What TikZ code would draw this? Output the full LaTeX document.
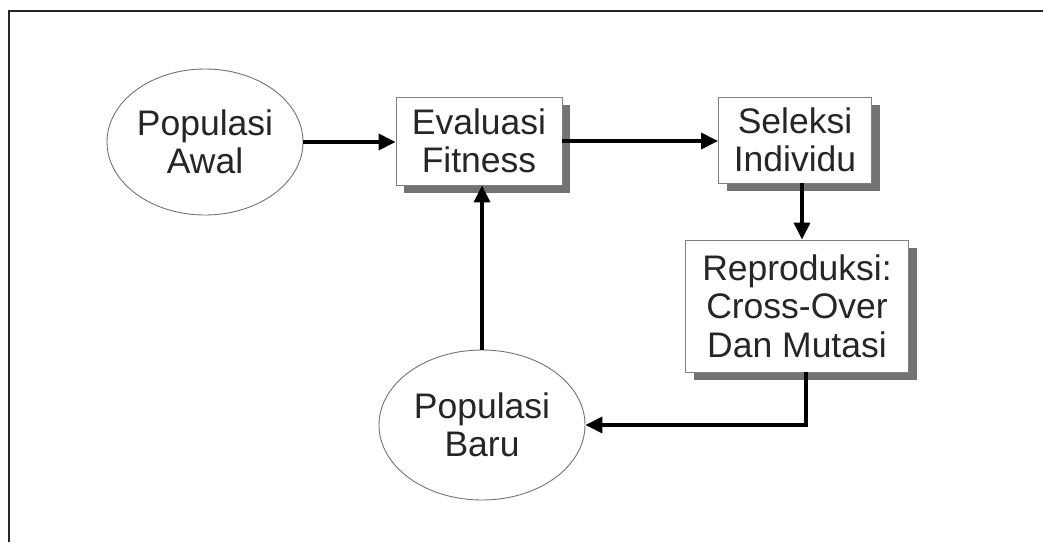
\documentclass[tikz,border=0pt]{standalone}
\usepackage{fontspec}
\setmainfont{Liberation Sans}
\usetikzlibrary{shapes.geometric,arrows.meta,shadows}
\begin{document}
\begin{tikzpicture}[x=1pt,y=-1pt,
  every node/.style={font=\fontsize{35.5}{38.5}\selectfont, text=black!85, align=center, inner sep=0pt},
  oval/.style={ellipse, draw=black!55, line width=0.9pt, fill=white},
  boxnode/.style={rectangle, draw=black!50, line width=0.9pt, fill=white,
    drop shadow={shadow xshift=8pt, shadow yshift=-8pt, fill=black!55, opacity=1}},
  flow/.style={line width=3.6pt, -{Triangle[length=17pt,width=16pt]}}]
\useasboundingbox (0,0) rectangle (1043,542);
\fill[white] (0,0) rectangle (1043,542);
% frame
\coordinate (fl) at (9,542);
\coordinate (fc) at (9,11);
\coordinate (fr) at (1043,11);
\draw[line width=2.6pt, black!85] (fl) -- (fc) -- (fr);
% nodes
\node[oval, minimum width=196pt, minimum height=146pt] (awal) at (205,142) {Populasi\\Awal};
\node[boxnode, minimum width=166pt, minimum height=88pt] (eval) at (479,141) {Evaluasi\\Fitness};
\node[boxnode, minimum width=153pt, minimum height=86pt] (sel) at (795,140) {Seleksi\\Individu};
\node[boxnode, minimum width=223pt, minimum height=132pt] (rep) at (797,306) {Reproduksi:\\Cross-Over\\Dan Mutasi};
\node[oval, minimum width=206pt, minimum height=150pt] (baru) at (482,425) {Populasi\\Baru};
% connectors
\draw[flow] (awal.east) -- (awal.east -| eval.west);
\draw[flow] (eval.east) -- (eval.east -| sel.west);
\draw[flow] ([xshift=7pt]sel.south) -- ([xshift=7pt]sel.south |- rep.north);
\draw[flow] (baru.north) -- (baru.north |- eval.south);
\draw[flow] ([xshift=9pt]rep.south) |- (baru.east);
\end{tikzpicture}
\end{document}
